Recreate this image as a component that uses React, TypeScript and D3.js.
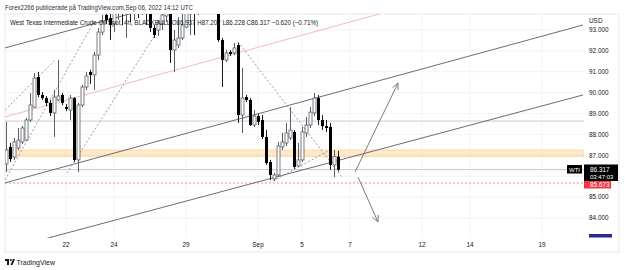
import React from "react";
import * as d3 from "d3";

// 4h candles, WTI spot
const opens = [
  86.59, 87.4, 86.92, 87.35, 87.64, 87.73, 88.69, 89.31, 90.75, 89.89,
  89.74, 89.51, 89.03, 89.65, 89.89, 89.31, 89.17, 89.74, 86.78, 89.41,
  90.27, 90.99, 90.85, 91.8, 92.9, 93.72, 93.57, 93.29, 93.86, 94.34,
  93.96, 94.68, 94.05, 94.82, 94.2, 94.68, 93.81, 93.1, 93.0, 93.29,
  93.67, 94.34, 92.04, 92.28, 92.62, 93.14, 93.77, 94.44, 94.05, 94.68,
  95.15, 94.82, 94.53, 94.68, 92.52, 91.56, 91.95, 91.9, 92.28, 88.93,
  89.79, 89.65, 88.45, 88.88, 88.69, 87.88, 86.68, 85.87, 86.06, 87.4,
  87.59, 87.83, 88.12, 86.49, 86.78, 88.07, 88.45, 89.03, 89.74, 88.69,
  88.4, 88.36, 86.54, 86.937,
];
const highs = [
  88.6, 87.59, 87.83, 88.31, 88.4, 88.79, 89.98, 90.94, 90.99, 90.03,
  89.84, 89.65, 90.13, 91.56, 89.98, 89.46, 89.89, 89.79, 89.51, 90.37,
  90.99, 91.09, 91.95, 93.1, 93.72, 94.05, 94.2, 94.44, 94.91, 95.15,
  95.15, 95.39, 95.39, 95.15, 95.39, 94.91, 93.96, 93.24, 93.48, 94.05,
  94.44, 94.68, 93.0, 93.62, 93.81, 94.2, 94.91, 95.15, 95.39, 95.63,
  95.63, 95.3, 95.39, 95.15, 92.62, 92.04, 92.04, 92.38, 92.38, 91.18,
  89.89, 89.74, 89.17, 88.98, 88.93, 88.21, 86.78, 86.15, 87.64, 88.07,
  88.55, 89.31, 88.21, 87.59, 88.36, 88.84, 89.31, 89.98, 89.89, 88.93,
  88.69, 88.55, 87.26, 87.207,
];
const lows = [
  86.2, 86.68, 86.78, 87.26, 87.54, 87.69, 88.6, 89.27, 89.79, 89.65,
  89.36, 88.88, 87.88, 89.6, 89.41, 89.12, 88.69, 86.68, 86.2, 89.31,
  90.13, 90.42, 90.13, 91.56, 92.76, 93.29, 92.52, 92.9, 93.48, 93.24,
  92.62, 93.38, 93.48, 93.57, 93.72, 93.24, 92.9, 92.62, 92.71, 93.0,
  93.38, 91.42, 90.99, 92.14, 92.52, 93.1, 92.76, 92.76, 93.72, 94.2,
  94.44, 94.05, 94.2, 92.43, 90.27, 91.47, 91.76, 91.8, 88.55, 88.07,
  89.55, 88.4, 88.36, 88.45, 87.78, 86.54, 85.82, 85.77, 85.96, 87.26,
  87.45, 87.73, 86.35, 86.44, 86.68, 87.88, 88.31, 88.88, 88.45, 88.21,
  88.12, 86.3, 85.96, 86.228,
];
const closes = [
  87.26, 86.82, 87.64, 87.73, 88.31, 88.69, 89.41, 90.7, 89.89, 89.74,
  89.51, 89.03, 89.79, 89.84, 89.51, 89.22, 89.74, 86.78, 89.41, 90.27,
  90.8, 90.85, 91.8, 92.9, 93.38, 93.48, 93.24, 93.96, 94.34, 94.05,
  94.68, 94.2, 94.91, 94.2, 94.68, 93.77, 93.1, 92.76, 93.34, 93.72,
  94.2, 92.04, 92.52, 92.62, 93.24, 93.81, 94.44, 94.05, 94.68, 95.15,
  94.82, 94.53, 94.91, 92.52, 91.56, 91.9, 91.85, 92.14, 88.93, 89.74,
  89.65, 88.45, 88.88, 88.6, 87.88, 86.63, 86.06, 86.06, 87.45, 87.64,
  88.07, 88.21, 86.44, 86.78, 88.12, 88.45, 89.07, 89.74, 88.69, 88.4,
  88.31, 86.54, 86.937, 86.317,
];

const priceTicks = [84, 85, 87, 88, 89, 90, 91, 92, 93];
const gridPrices = [84, 85, 86, 87, 88, 89, 90, 91, 92, 93];
const dayLabels = ["22", "24", "29", "Sep", "5", "7", "12", "14", "19"];
const dayIndex = [15, 27, 45, 63, 74, 86, 104, 116, 134];

// drawings, as [bar index, price, bar index, price]
const channelLines = [
  [-0.25, 85.68, 144.25, 93.24],
  [-0.25, 92.14, 144.25, 99.7],
  [-0.25, 82.49, 144.25, 89.89],
];
const pinkLine = [-0.25, 88.84, 144.25, 96.45];
const dottedLines = [
  [-0.25, 89.17, 12.25, 91.56],
  [-0.25, 85.82, 22.25, 93.48],
  [15.25, 86.15, 37.25, 92.76],
  [58, 92.43, 84, 85.96],
  [66.75, 85.77, 81, 87.26],
];
const arrows = [
  [87.25, 86.2, 98, 90.46],
  [88, 85.96, 93, 83.81],
];
const zone = [86.94, 87.26];
const levelLine = 88.64;
const lastPrice = 86.317;
const bidPrice = 85.673;

const W = 625;
const H = 270;
const left = 5;
const right = 584;
const top = 14;
const bottom = 238;
const font = "'Liberation Sans', Arial, sans-serif";

export default function App() {
  const x = d3.scaleLinear().domain([-0.25, 144.5]).range([left, right]);
  const y = d3.scaleLinear().domain([84, 93]).range([218, 30]);
  const bars = d3.range(opens.length);

  const seg = (d: number[], key: string, props: any) => (
    <line key={key} x1={x(d[0])} y1={y(d[1])} x2={x(d[2])} y2={y(d[3])} {...props} />
  );

  const arrowHead = (d: number[], k: number) => {
    const x2 = x(d[2]), y2 = y(d[3]);
    const ang = Math.atan2(y(d[1]) - y2, x(d[0]) - x2);
    const len = 7;
    return [-0.45, 0.45].map((o, j) => (
      <line
        key={`ah${k}${j}`}
        x1={x2}
        y1={y2}
        x2={x2 + len * Math.cos(ang + o)}
        y2={y2 + len * Math.sin(ang + o)}
        stroke="#787b86"
        strokeWidth={1}
      />
    ));
  };

  return (
    <svg
      width={W}
      height={H}
      style={{ position: "absolute", left: 0, top: 0, background: "#fff" }}
      fontFamily={font}
    >
      <defs>
        <clipPath id="plot">
          <rect x={left} y={top} width={right - left} height={bottom - top} />
        </clipPath>
      </defs>

      <text x={5} y={10} fontSize={6.6} fill="#2a2e39" textLength={188} lengthAdjust="spacingAndGlyphs">
        Forex2266 publicerade på TradingView.com,Sep 06, 2022 14:12 UTC
      </text>

      {/* frame */}
      <rect x={left} y={top} width={619 - left} height={252 - top} fill="none" stroke="#e6e8ee" />

      <g clipPath="url(#plot)">
        {gridPrices.map((p) => (
          <line key={`gp${p}`} x1={left} x2={right} y1={y(p)} y2={y(p)} stroke="#f3f4f7" />
        ))}
        {dayIndex.map((d) => (
          <line key={`gd${d}`} x1={x(d)} x2={x(d)} y1={top} y2={bottom} stroke="#f3f4f7" />
        ))}

        <rect
          x={left}
          width={right - left}
          y={y(zone[1])}
          height={y(zone[0]) - y(zone[1])}
          fill="rgba(255,183,77,0.3)"
          stroke="rgba(255,183,77,0.45)"
          strokeWidth={0.8}
        />
        <line x1={left} x2={right} y1={y(levelLine)} y2={y(levelLine)} stroke="#c9cbd1" />
        <line x1={left} x2={right} y1={y(lastPrice)} y2={y(lastPrice)} stroke="#c4c6cc" />
        <line
          x1={left}
          x2={right}
          y1={y(bidPrice)}
          y2={y(bidPrice)}
          stroke="#f48a95"
          strokeDasharray="2,2"
        />

        {seg(pinkLine, "pink", { stroke: "#f7b7c6", strokeWidth: 1 })}
        {channelLines.map((d, k) => seg(d, `ch${k}`, { stroke: "#6a6d78", strokeWidth: 1 }))}
        {dottedLines.map((d, k) =>
          seg(d, `dl${k}`, { stroke: "#8a8d96", strokeWidth: 0.9, strokeDasharray: "2,2" })
        )}

        {bars.map((i) => {
          const up = closes[i] >= opens[i];
          const cx = Math.round(x(i)) + 0.5;
          const bt = y(Math.max(opens[i], closes[i]));
          const bb = y(Math.min(opens[i], closes[i]));
          const col = up ? "#5b5e68" : "#1a1a1a";
          return (
            <g key={`c${i}`}>
              <line x1={cx} x2={cx} y1={y(highs[i])} y2={y(lows[i])} stroke={col} strokeWidth={1} />
              <rect
                x={cx - 1.5}
                y={bt}
                width={3}
                height={Math.max(1, bb - bt)}
                fill={up ? "#fff" : "#000"}
                stroke={up ? col : "none"}
                strokeWidth={0.8}
              />
            </g>
          );
        })}

        {arrows.map((d, k) => (
          <g key={`ar${k}`}>
            {seg(d, `as${k}`, { stroke: "#787b86", strokeWidth: 1 })}
            {arrowHead(d, k)}
          </g>
        ))}

        <text x={10} y={25} fontSize={6.4} fill="#131722" textLength={308} lengthAdjust="spacingAndGlyphs">
          West Texas Intermediate Crude Oil Spot, 4h, BLACKBULL  O86.937 H87.207 L86.228 C86.317 −0.620 (−0.71%)
        </text>
      </g>

      {/* price scale */}
      <text x={589} y={23} fontSize={6.4} fill="#131722">USD</text>
      {priceTicks.map((p) => (
        <text key={`pt${p}`} x={589} y={y(p) + 2.3} fontSize={6.4} fill="#131722">
          {p.toFixed(3)}
        </text>
      ))}

      <rect x={567} y={165} width={15} height={8.5} fill="#000" />
      <text x={574.5} y={171.5} fontSize={6} fill="#fff" textAnchor="middle">WTI</text>
      <rect x={584} y={164.5} width={34} height={16.5} fill="#000" />
      <text x={590} y={171.6} fontSize={6.4} fill="#fff">{lastPrice.toFixed(3)}</text>
      <text x={590} y={179} fontSize={6} fill="#fff">03:47:03</text>
      <rect x={584} y={181} width={27} height={7.5} fill="#f23645" />
      <text x={590} y={187} fontSize={6.4} fill="#fff">{bidPrice.toFixed(3)}</text>
      <rect x={589} y={234} width={23} height={3.5} fill="#2e2596" />

      {/* time scale */}
      {dayLabels.map((t, k) => (
        <text key={`tl${t}`} x={x(dayIndex[k])} y={247} fontSize={6.4} fill="#131722" textAnchor="middle">
          {t}
        </text>
      ))}

      {/* footer */}
      <g fill="#131722">
        <rect x={5} y={259} width={4} height={2} />
        <rect x={7} y={259} width={2} height={6} />
        <circle cx={10.8} cy={260} r={1.1} />
        <polygon points="10.5,265 13,259 15,259 12.5,265" />
      </g>
      <text x={16.5} y={265} fontSize={7} fill="#131722">TradingView</text>
    </svg>
  );
}
